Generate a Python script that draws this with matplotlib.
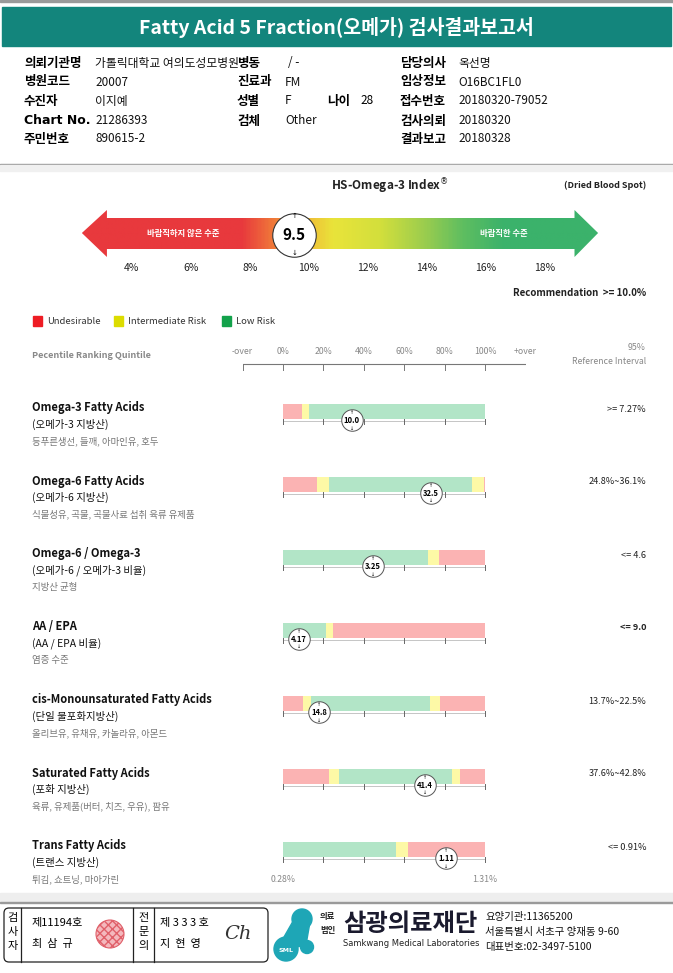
import numpy as np
import matplotlib
matplotlib.use("Agg")
import matplotlib.pyplot as plt
from matplotlib.patches import Rectangle, FancyBboxPatch, Polygon, Circle
from matplotlib.colors import LinearSegmentedColormap

plt.rcParams['font.family'] = ['Noto Sans CJK KR', 'DejaVu Sans']

# ---------------- data ----------------
title = 'Fatty Acid 5 Fraction(오메가) 검사결과보고서'

info_rows = [
    [('의뢰기관명', '가톨릭대학교 여의도성모병원'), ('병동', '/ -'), ('담당의사', '옥선명')],
    [('병원코드', '20007'), ('진료과', 'FM'), ('임상정보', 'O16BC1FL0')],
    [('수진자', '이지예'), ('성별', 'F'), ('접수번호', '20180320-79052')],
    [('Chart No.', '21286393'), ('검체', 'Other'), ('검사의뢰', '20180320')],
    [('주민번호', '890615-2'), None, ('결과보고', '20180328')],
]
age_label, age_value = '나이', '28'

index_value = 9.5
index_ticks = [4, 6, 8, 10, 12, 14, 16, 18]
index_stops = [2.3, 7.7, 8.6, 9.8, 10.8, 12.4, 13.9, 15.2, 16.6, 19.8]
index_colors = ['#e8393d', '#e8393d', '#ef6f3a', '#f1b637', '#e9e43a',
                '#d3df3c', '#9ccd4e', '#5fbe60', '#3bb26b', '#3bb26b']

quint_labels = ['-over', '0%', '20%', '40%', '60%', '80%', '100%', '+over']
quint_pos = [-20, 0, 20, 40, 60, 80, 100, 120]

names = ['Omega-3 Fatty Acids', 'Omega-6 Fatty Acids', 'Omega-6 / Omega-3',
         'AA / EPA', 'cis-Monounsaturated Fatty Acids', 'Saturated Fatty Acids',
         'Trans Fatty Acids']
names_kr = ['(오메가-3 지방산)', '(오메가-6 지방산)', '(오메가-6 / 오메가-3 비율)',
            '(AA / EPA 비율)', '(단일 불포화지방산)', '(포화 지방산)', '(트랜스 지방산)']
foods = ['등푸른생선, 들깨, 아마인유, 호두', '식물성유, 곡물, 곡물사료 섭취 육류 유제품',
         '지방산 균형', '염증 수준', '올리브유, 유채유, 카놀라유, 아몬드',
         '육류, 유제품(버터, 치즈, 우유), 팜유', '튀김, 쇼트닝, 마아가린']
ref_text = ['>= 7.27%', '24.8%~36.1%', '<= 4.6', '<= 9.0', '13.7%~22.5%',
            '37.6%~42.8%', '<= 0.91%']
ref_bold = [False, False, False, True, False, False, False]
# bar segments (percentile widths) and zone colours
seg_widths = [
    [9.2, 3.6, 87.2],
    [17.0, 5.9, 70.7, 5.9, 0.5],
    [72.0, 5.1, 22.9],
    [21.2, 3.8, 75.0],
    [10.0, 4.0, 58.7, 5.0, 22.3],
    [23.0, 4.8, 56.0, 3.9, 12.3],
    [55.8, 5.9, 38.3],
]
seg_zones = [
    ['U', 'I', 'L'],
    ['U', 'I', 'L', 'I', 'U'],
    ['L', 'I', 'U'],
    ['L', 'I', 'U'],
    ['U', 'I', 'L', 'I', 'U'],
    ['U', 'I', 'L', 'I', 'U'],
    ['L', 'I', 'U'],
]
marker_pct = [34.0, 73.3, 44.6, 7.9, 18.0, 70.4, 80.7]
marker_val = ['10.0', '32.5', '3.25', '4.17', '14.8', '41.4', '1.11']
trans_ends = ['0.28%', '1.31%']

zone_color = {'U': '#fbb3b3', 'I': '#fdf9a6', 'L': '#b2e5c7'}
legend_labels = ['Undesirable', 'Intermediate Risk', 'Low Risk']
legend_colors = ['#ee1c24', '#dcdc00', '#13a24b']

TEAL = '#13857c'
W, H = 673, 973

fig = plt.figure(figsize=(W / 100, H / 100), dpi=100)
ax = fig.add_axes([0, 0, 1, 1])
ax.set_xlim(0, W)
ax.set_ylim(H, 0)
ax.axis('off')


def px_axes(x0, y0, x1, y1):
    return fig.add_axes([x0 / W, 1 - y1 / H, (x1 - x0) / W, (y1 - y0) / H])


# ---------------- header ----------------
ax.add_patch(Rectangle((0, 0), W, 1.5, color='#9a9a9a'))
ax.add_patch(Rectangle((2, 7), W - 4, 39, color=TEAL))
ax.text(W / 2, 28, title, color='white', fontsize=14, fontweight='bold',
        ha='center', va='center')

row_y = [63, 82, 101, 121, 139]
col_x = [(24, 95), (237, 285), (400, 458)]
for r, row in enumerate(info_rows):
    for c, cell in enumerate(row):
        if cell is None:
            continue
        lab, val = cell
        lx, vx = col_x[c]
        if lab == '병동':
            vx = 288
        ax.text(vx, row_y[r], val, fontsize=8.5, va='center', color='#111')
        ax.text(lx, row_y[r], lab, fontsize=9, fontweight='bold', va='center',
                color='#000', family=['DejaVu Sans', 'Noto Sans CJK KR']
                if lab.startswith('Chart') else None)
ax.text(327, row_y[2], age_label, fontsize=9, fontweight='bold', va='center')
ax.text(360, row_y[2], age_value, fontsize=8.5, va='center')

ax.add_patch(Rectangle((0, 163.5), W, 1.5, color='#9a9a9a'))
ax.add_patch(Rectangle((0, 165), W, 6, color='#f0f0f0'))

# ---------------- HS-Omega-3 index arrow ----------------
ax.text(390, 186, 'HS-Omega-3 Index$^{®}$', fontsize=8.5, fontweight='bold',
        ha='center', va='center', color='#222')
ax.text(646, 185, '(Dried Blood Spot)', fontsize=6.5, fontweight='bold',
        ha='right', va='center', color='#222')

# index axes: x in %, px 132 -> 4%, 29.5 px per %
px_per = 29.5
ix0, ix1 = 60, 620
iax = px_axes(ix0, 200, ix1, 280)
iax.set_xlim(4 + (ix0 - 132) / px_per, 4 + (ix1 - 132) / px_per)
iax.set_ylim(280, 200)
iax.axis('off')
xl, xr = index_stops[0], index_stops[-1]
bl, br = 3.15, 19.0
arrow = [(xl, 233), (bl, 210), (bl, 218), (br, 218), (br, 210), (xr, 233),
         (br, 257), (br, 249), (bl, 249), (bl, 257)]
poly = Polygon(arrow, closed=True, facecolor='none', edgecolor='none')
iax.add_patch(poly)
cmap = LinearSegmentedColormap.from_list(
    'idx', [((s - xl) / (xr - xl), c) for s, c in zip(index_stops, index_colors)])
grad = np.linspace(0, 1, 400).reshape(1, -1)
im = iax.imshow(grad, cmap=cmap, extent=[xl, xr, 258, 209], aspect='auto')
im.set_clip_path(poly)
iax.text(5.75, 233.5, '바람직하지 않은 수준', color='white', fontsize=6,
         fontweight='bold', ha='center', va='center')
iax.text(16.6, 233.5, '바람직한 수준', color='white', fontsize=6,
         fontweight='bold', ha='center', va='center')
iax.scatter([index_value], [234.5], s=980, facecolor='white', edgecolor='#333',
            linewidth=0.8, zorder=5)
iax.text(index_value, 235, f'{index_value}', fontsize=11, fontweight='bold',
         ha='center', va='center', zorder=6)
iax.text(index_value, 216.5, '↑', fontsize=5, ha='center', va='center', zorder=6,
         family='DejaVu Sans')
iax.text(index_value, 252.5, '↓', fontsize=5, ha='center', va='center', zorder=6,
         family='DejaVu Sans')
for t in index_ticks:
    iax.text(t, 268, f'{t}%', fontsize=7.5, ha='center', va='center', color='#222')

ax.text(646, 293, 'Recommendation  >= 10.0%', fontsize=7, fontweight='bold',
        ha='right', va='center', color='#222')

# legend
lx = [33, 114, 222]
for x, lab, col in zip(lx, legend_labels, legend_colors):
    ax.add_patch(Rectangle((x, 316), 9, 10, color=col))
    ax.text(x + 14, 321, lab, fontsize=6.8, va='center', color='#333')

# ---------------- percentile rows ----------------
ax.text(32, 355, 'Pecentile Ranking Quintile', fontsize=6.5, va='center',
        color='#888', fontweight='bold')
ax.text(646, 347, '95%', fontsize=6.3, ha='right', va='center', color='#888')
ax.text(646, 361, 'Reference Interval', fontsize=6.3, ha='right', va='center',
        color='#888')

row0, rstep = 411, 73
bx0, bx1 = 242.5, 525.5
top_px, bot_px = 335, 895
pax = px_axes(bx0, top_px, bx1, bot_px)
pax.set_xlim(-20, 120)
pax.set_ylim((bot_px - row0) / rstep, (top_px - row0) / rstep)
pax.axis('off')
u = 1 / rstep  # one pixel in row units

# header scale
hy = (351 - row0) * u
ly = (364 - row0) * u
for p, lab in zip(quint_pos, quint_labels):
    pax.text(p, hy, lab, fontsize=6.3, ha='center', va='center', color='#888')
    pax.plot([p, p], [ly, ly + 6 * u], color='#777', lw=0.7)
pax.plot([quint_pos[0], quint_pos[-1]], [ly, ly], color='#777', lw=0.8)

for i in range(len(names)):
    y = i
    left = np.concatenate([[0], np.cumsum(seg_widths[i])[:-1]])
    pax.barh([y] * len(seg_widths[i]), seg_widths[i], left=left, height=15 * u,
             color=[zone_color[z] for z in seg_zones[i]], linewidth=0)
    base = y + 9.5 * u
    pax.plot([0, 100], [base, base], color='#bbb', lw=0.6)
    for p in quint_pos[1:-1]:
        pax.plot([p, p], [y + 7.5 * u, y + 12.5 * u], color='#666', lw=0.7)
    my = y + 9 * u
    pax.scatter([marker_pct[i]], [my], s=240, facecolor='white', edgecolor='#555',
                linewidth=0.7, zorder=5)
    pax.text(marker_pct[i], my + 0.5 * u, marker_val[i], fontsize=5.5,
             fontweight='bold', ha='center', va='center', zorder=6)
    pax.text(marker_pct[i], my - 7.5 * u, '↑', fontsize=3.5, ha='center',
             va='center', zorder=6, family='DejaVu Sans')
    pax.text(marker_pct[i], my + 8 * u, '↓', fontsize=3.5, ha='center',
             va='center', zorder=6, family='DejaVu Sans')

    ty = row0 + rstep * i
    ax.text(32, ty - 3, names[i], fontsize=8, fontweight='bold', va='center',
            color='#111')
    ax.text(32, ty + 13, names_kr[i], fontsize=7.5, va='center', color='#111')
    ax.text(32, ty + 30, foods[i], fontsize=6.8, va='center', color='#777')
    ax.text(646, ty - 2, ref_text[i], fontsize=6.6, ha='right', va='center',
            color='#222', fontweight='bold' if ref_bold[i] else 'normal')

last = len(names) - 1
pax.text(0, last + 30 * u, trans_ends[0], fontsize=6.3, ha='center', va='center',
         color='#888')
pax.text(100, last + 30 * u, trans_ends[1], fontsize=6.3, ha='center', va='center',
         color='#888')

# ---------------- footer ----------------
ax.add_patch(Rectangle((0, 893), W, 9, color='#eeeeee'))
ax.add_patch(Rectangle((0, 902), W, 1.2, color='#9a9a9a'))

ax.add_patch(FancyBboxPatch((4, 908), 264, 54, boxstyle='round,pad=0,rounding_size=5',
                            facecolor='white', edgecolor='#222', lw=0.9))
for x in [21, 133, 154]:
    ax.plot([x, x], [908, 962], color='#222', lw=0.9)
for k, ch in enumerate('검사자'):
    ax.text(12.5, 918 + k * 14, ch, fontsize=8, ha='center', va='center')
for k, ch in enumerate('전문의'):
    ax.text(143.5, 918 + k * 14, ch, fontsize=8, ha='center', va='center')
ax.text(32, 923, '제11194호', fontsize=8, va='center')
ax.text(32, 944, '최  삼  규', fontsize=8, va='center')
ax.text(160, 923, '제 3 3 3 호', fontsize=8, va='center')
ax.text(160, 944, '지  현  영', fontsize=8, va='center')
ax.add_patch(Circle((110, 934), 14, facecolor='#f4b8bd', edgecolor='#e0606a',
                    lw=0.8, hatch='xxxx'))
ax.text(238, 934, 'Ch', fontsize=14, style='italic', va='center', ha='center',
        family='DejaVu Serif', color='#333', fontweight='light')

LOGO = '#1ea6b6'
ax.add_patch(Polygon([(296, 916), (310, 922), (306, 945), (292, 948), (280, 944)],
                     closed=True, color=LOGO))
ax.add_patch(Circle((302, 919), 10, color=LOGO))
ax.add_patch(Circle((286, 949), 12, color=LOGO))
ax.add_patch(Circle((307, 947), 6.5, color=LOGO))
ax.text(286, 950, 'SML', fontsize=4.5, color='white', fontweight='bold',
        ha='center', va='center', family='DejaVu Sans')
ax.text(320, 917, '의료', fontsize=6, fontweight='bold', va='center', color='#222')
ax.text(320, 931, '법인', fontsize=6, fontweight='bold', va='center', color='#222')
ax.text(343, 924, '삼광의료재단', fontsize=17.5, fontweight='bold', va='center',
        color='#1a1a2e')
ax.text(343, 944, 'Samkwang Medical Laboratories', fontsize=6, va='center',
        color='#222', family='DejaVu Sans')
ax.text(485, 917, '요양기관:11365200', fontsize=7.5, va='center', color='#111')
ax.text(485, 932, '서울특별시 서초구 양재동 9-60', fontsize=7.5, va='center', color='#111')
ax.text(485, 947, '대표번호:02-3497-5100', fontsize=7.5, va='center', color='#111')

fig.savefig('out.png', dpi=100)
